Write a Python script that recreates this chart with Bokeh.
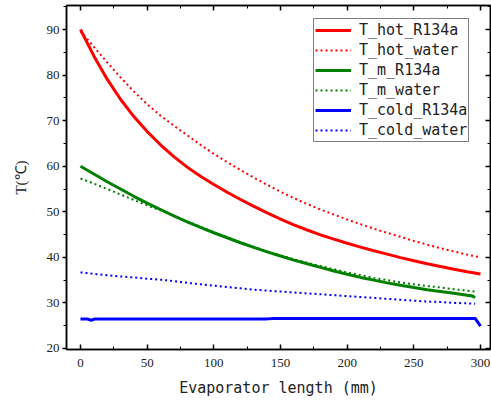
from bokeh.plotting import figure
from bokeh.models import (LinearAxis, Legend, LegendItem, Range1d,
                          SingleIntervalTicker, CustomJSTickFormatter)
from bokeh.embed import file_html
from bokeh.resources import INLINE

# ---- data ----
x_main = [0, 10, 20, 30, 40, 50, 60, 70, 80, 90, 100, 110, 120, 130, 140, 150,
          160, 170, 180, 190, 200, 210, 220, 230, 240, 250, 260, 270, 280, 290, 300]
t_hot_r134a = [90.0, 84.2, 79.1, 74.7, 70.9, 67.6, 64.7, 62.1, 59.8, 57.8, 56.0,
               54.3, 52.7, 51.2, 49.75, 48.4, 47.15, 46.0, 44.95, 44.0, 43.1,
               42.25, 41.45, 40.7, 39.95, 39.25, 38.6, 38.0, 37.4, 36.85, 36.35]
t_hot_water = [89.6, 86.2, 82.8, 79.5, 76.4, 73.6, 71.1, 68.9, 66.8, 64.7, 62.7,
               60.9, 59.2, 57.5, 55.9, 54.4, 53.0, 51.7, 50.5, 49.4, 48.3, 47.3,
               46.3, 45.4, 44.5, 43.6, 42.8, 42.0, 41.3, 40.6, 40.0]

x_m = [0, 10, 20, 30, 40, 50, 60, 70, 80, 90, 100, 110, 120, 130, 140, 150,
       160, 170, 180, 190, 200, 210, 220, 230, 240, 250, 260, 270, 280, 290, 294, 296]
t_m_r134a = [60.0, 58.3, 56.6, 55.0, 53.4, 51.9, 50.5, 49.1, 47.8, 46.6, 45.4,
             44.3, 43.2, 42.2, 41.2, 40.3, 39.4, 38.6, 37.8, 37.0, 36.3, 35.6,
             35.0, 34.4, 33.9, 33.4, 32.9, 32.5, 32.1, 31.7, 31.5, 31.2]
x_m_water = [0, 10, 20, 30, 40, 50, 60, 70, 80, 90, 100, 110, 120, 130, 140, 150,
             160, 170, 180, 190, 200, 210, 220, 230, 240, 250, 260, 270, 280, 290, 296]
t_m_water = [57.3, 56.2, 55.0, 53.8, 52.6, 51.4, 50.3, 49.1, 47.9, 46.7, 45.5,
             44.4, 43.3, 42.3, 41.3, 40.4, 39.6, 38.8, 38.1, 37.4, 36.7, 36.1,
             35.5, 35.0, 34.5, 34.1, 33.7, 33.4, 33.0, 32.7, 32.5]

x_cold = [0, 5, 8, 11, 140, 145, 296, 300]
t_cold_r134a = [26.5, 26.5, 26.2, 26.5, 26.5, 26.6, 26.6, 24.9]
x_cold_water = [0, 10, 20, 30, 40, 50, 60, 70, 80, 90, 100, 110, 120, 130, 140, 150,
                160, 170, 180, 190, 200, 210, 220, 230, 240, 250, 260, 270, 280, 290, 296]
t_cold_water = [36.7, 36.4, 36.1, 35.8, 35.6, 35.3, 35.1, 34.8, 34.4, 34.1, 33.8,
                33.5, 33.2, 32.9, 32.7, 32.5, 32.3, 32.1, 31.9, 31.7, 31.5, 31.3,
                31.1, 30.9, 30.7, 30.5, 30.3, 30.2, 30.0, 29.9, 29.8]

labels = ["T_hot_R134a", "T_hot_water", "T_m_R134a", "T_m_water",
          "T_cold_R134a", "T_cold_water"]

SERIF = "Liberation Serif"
MONO = "DejaVu Sans Mono"

p = figure(width=491, height=401, output_backend="svg", toolbar_location=None,
           x_range=Range1d(-10.5, 307.5), y_range=Range1d(19.78, 95.27),
           x_axis_label="Evaporator length (mm)", y_axis_label="T(℃)",
           min_border_left=66, min_border_right=1, min_border_top=5,
           min_border_bottom=52)
p.xgrid.visible = False
p.ygrid.visible = False
p.outline_line_color = "black"
p.outline_line_width = 1.5
p.background_fill_color = "white"
p.border_fill_color = "white"

xa = p.xaxis[0]
xa.ticker = SingleIntervalTicker(interval=50, num_minor_ticks=2)
xa.major_tick_in = 5
xa.major_tick_out = 0
xa.minor_tick_in = 3
xa.minor_tick_out = 0
xa.major_label_standoff = 9
xa.axis_label_standoff = 9
xa.major_label_text_font = SERIF
xa.major_label_text_font_size = "13px"
xa.axis_label_text_font = MONO
xa.axis_label_text_font_size = "15px"
xa.axis_label_text_font_style = "normal"

ya = p.yaxis[0]
ya.ticker = SingleIntervalTicker(interval=10, num_minor_ticks=2)
ya.major_tick_in = 0
ya.major_tick_out = 4
ya.minor_tick_in = 0
ya.minor_tick_out = 3
ya.major_label_standoff = 3
ya.axis_label_standoff = 15
ya.major_label_text_font = SERIF
ya.major_label_text_font_size = "13px"
ya.axis_label_text_font = SERIF
ya.axis_label_text_font_size = "15px"
ya.axis_label_text_font_style = "normal"

for ax in (xa, ya):
    ax.axis_line_width = 1.5
    ax.major_tick_line_width = 1.5
    ax.minor_tick_line_width = 1
    ax.major_label_text_color = "#222222"
    ax.axis_label_text_color = "#222222"

blank = CustomJSTickFormatter(code="return '';")
top = LinearAxis(ticker=SingleIntervalTicker(interval=50, num_minor_ticks=2),
                 formatter=blank, major_tick_in=5, major_tick_out=0,
                 minor_tick_in=3, minor_tick_out=0, major_label_standoff=0,
                 axis_line_width=1.5, major_tick_line_width=1.5)
right = LinearAxis(ticker=SingleIntervalTicker(interval=10, num_minor_ticks=2),
                   formatter=blank, major_tick_in=5, major_tick_out=0,
                   minor_tick_in=3, minor_tick_out=0, major_label_standoff=0,
                   axis_line_width=1.5, major_tick_line_width=1.5)
p.add_layout(top, "above")
p.add_layout(right, "right")

RED, GREEN, BLUE = "#ff0000", "#008000", "#0000ff"
DOT = "2 3"

r1 = p.line(x_main, t_hot_r134a, line_color=RED, line_width=3)
r2 = p.line(x_main, t_hot_water, line_color=RED, line_width=2, line_dash=DOT)
r3 = p.line(x_m, t_m_r134a, line_color=GREEN, line_width=3)
r4 = p.line(x_m_water, t_m_water, line_color=GREEN, line_width=2, line_dash=DOT)
r5 = p.line(x_cold, t_cold_r134a, line_color=BLUE, line_width=3)
r6 = p.line(x_cold_water, t_cold_water, line_color=BLUE, line_width=2, line_dash=DOT)

rs = [r1, r2, r3, r4, r5, r6]
legend = Legend(items=[LegendItem(label=l, renderers=[r]) for l, r in zip(labels, rs)],
                location=(247, 207), margin=0, padding=1, spacing=0,
                glyph_width=36, glyph_height=20, label_height=20,
                label_standoff=8, label_text_font=MONO,
                label_text_font_size="15px", label_text_color="#222222",
                border_line_color="black", border_line_width=1,
                background_fill_color="white", background_fill_alpha=1)
p.add_layout(legend)

open("out.html", "w").write(file_html(p, INLINE))
